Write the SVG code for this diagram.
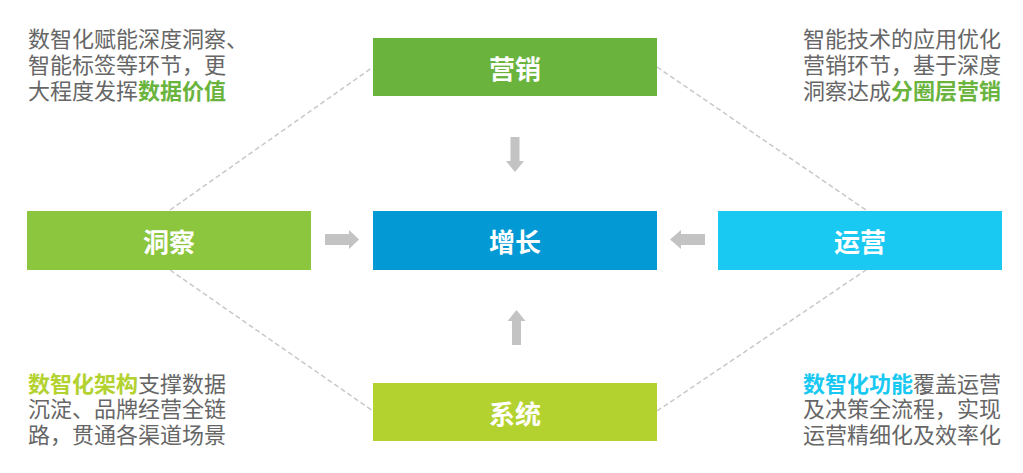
<svg xmlns="http://www.w3.org/2000/svg" width="1023" height="473" viewBox="0 0 1023 473">
<style>
.box{stroke:none}
.lbl{font-family:"Noto Sans CJK SC","Noto Sans",sans-serif;font-size:26px;font-weight:bold;fill:#ffffff;text-anchor:middle;dominant-baseline:central}
.desc{font-family:"Noto Sans CJK SC","Noto Sans",sans-serif;font-size:22px;fill:#666666}
.r{text-anchor:end}
.hl{font-weight:bold}
.dash{stroke:#c8c8c8;stroke-width:1.5;stroke-dasharray:5 3;fill:none}
.arr{fill:#c3c3c3}
</style>
<rect width="1023" height="473" fill="#ffffff"/>
<g id="connectors">
<line class="dash" x1="170" y1="210" x2="373" y2="67"/>
<line class="dash" x1="657" y1="67" x2="866" y2="210"/>
<line class="dash" x1="170" y1="270" x2="373" y2="411"/>
<line class="dash" x1="657" y1="411" x2="866" y2="270"/>
<polygon class="arr" points="510.5,137 519.5,137 519.5,161 524,161 515,172 506,161 510.5,161"/>
<polygon class="arr" points="325,234 349,234 349,230 359,239.5 349,249 349,245 325,245"/>
<polygon class="arr" points="705,234 681,234 681,230 670,239.5 681,249 681,245 705,245"/>
<polygon class="arr" points="512,345 521,345 521,321 525.5,321 516.5,310 507.5,321 512,321"/>
</g>
<g id="node-yingxiao">
<rect class="box" x="373" y="38" width="284" height="58" fill="#6ab43e"/>
<text class="lbl" x="515" y="67">营销</text>
</g>
<g id="node-dongcha">
<rect class="box" x="27" y="211" width="284" height="59" fill="#8cc63e"/>
<text class="lbl" x="169" y="240">洞察</text>
</g>
<g id="node-zengzhang">
<rect class="box" x="373" y="211" width="284" height="59" fill="#0399d4"/>
<text class="lbl" x="515" y="240">增长</text>
</g>
<g id="node-yunying">
<rect class="box" x="718" y="211" width="284" height="59" fill="#19c9f2"/>
<text class="lbl" x="860" y="240">运营</text>
</g>
<g id="node-xitong">
<rect class="box" x="373" y="383" width="284" height="58" fill="#b4d22f"/>
<text class="lbl" x="515" y="412">系统</text>
</g>
<g id="desc-tl">
<text class="desc" x="28" y="47">数智化赋能深度洞察、</text>
<text class="desc" x="28" y="73">智能标签等环节，更</text>
<text class="desc" x="28" y="99">大程度发挥<tspan class="hl" fill="#6ab43e">数据价值</tspan></text>
</g>
<g id="desc-tr">
<text class="desc r" x="1001" y="47">智能技术的应用优化</text>
<text class="desc r" x="1001" y="73">营销环节，基于深度</text>
<text class="desc r" x="1001" y="99">洞察达成<tspan class="hl" fill="#6ab43e">分圈层营销</tspan></text>
</g>
<g id="desc-bl">
<text class="desc" x="28" y="392"><tspan class="hl" fill="#b4d22f">数智化架构</tspan>支撑数据</text>
<text class="desc" x="28" y="417">沉淀、品牌经营全链</text>
<text class="desc" x="28" y="443">路，贯通各渠道场景</text>
</g>
<g id="desc-br">
<text class="desc r" x="1001" y="392"><tspan class="hl" fill="#19c9f2">数智化功能</tspan>覆盖运营</text>
<text class="desc r" x="1001" y="417">及决策全流程，实现</text>
<text class="desc r" x="1001" y="443">运营精细化及效率化</text>
</g>
</svg>
